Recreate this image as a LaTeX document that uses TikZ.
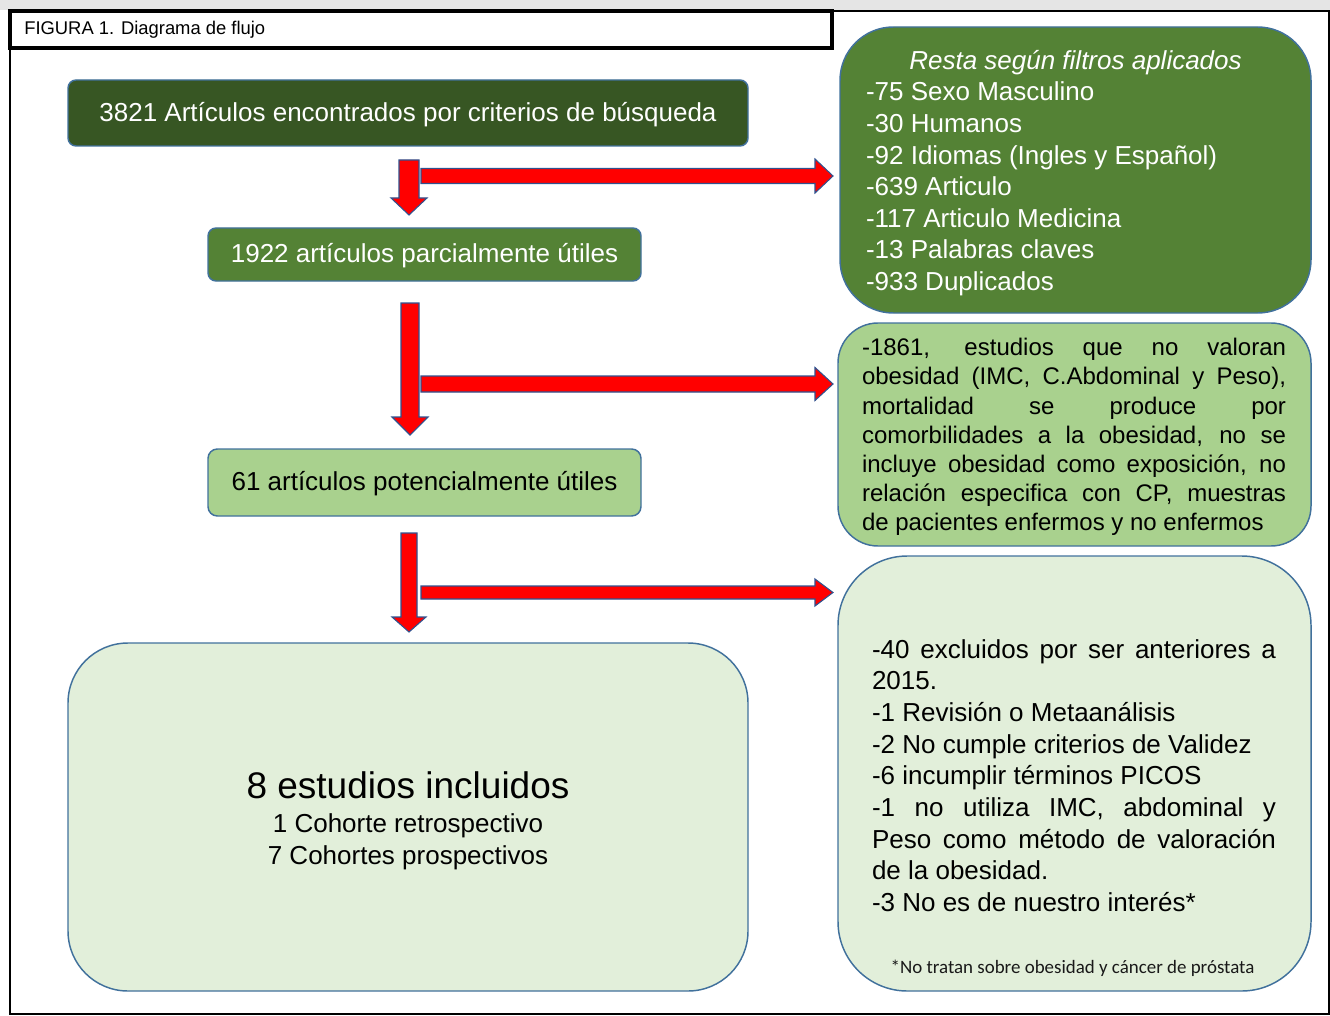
\documentclass[tikz,border=0pt]{standalone}
\usepackage{fontspec}
\setmainfont{Liberation Sans}
\newfontfamily\carlito{Carlito}
\definecolor{gA}{HTML}{375623}
\definecolor{gB}{HTML}{548235}
\definecolor{gC}{HTML}{A9D18E}
\definecolor{gD}{HTML}{E2EFDA}
\definecolor{boxedge}{HTML}{41719C}
\definecolor{arredge}{HTML}{2F528F}
\newcommand\natsp{\spaceskip=0pt\xspaceskip=0pt\relax}
\newcommand\jline[2]{\makebox[#1][s]{\spaceskip=.278em plus 3em\relax #2}}
\newcommand\lowstrut{\rule[-4pt]{0pt}{20.5pt}}
\newcommand\downarr[6]{% x, ytop, yhead, ytip, shafthalf, headhalf
  \draw[arrowshape] (#1-#5,#2) -- (#1+#5,#2) -- (#1+#5,#3) -- (#1+#6,#3) -- (#1,#4)
    -- (#1-#6,#3) -- (#1-#5,#3) -- cycle;}
\newcommand\rightarr[6]{% y, xstart, xhead, xtip, shafthalf, headhalf
  \draw[arrowshape] (#2,#1-#5) -- (#3,#1-#5) -- (#3,#1-#6) -- (#4,#1) -- (#3,#1+#6)
    -- (#3,#1+#5) -- (#2,#1+#5) -- cycle;}
\begin{document}
\begin{tikzpicture}[x=0.75pt,y=-0.75pt,
  arrowshape/.style={fill=red,draw=arredge,line width=0.8pt,line join=miter},
  boxbase/.style={draw=boxedge,line width=1.1pt,inner sep=0pt},
  big/.style={font=\fontsize{19.5}{23.7}\selectfont},
  mid/.style={font=\fontsize{18}{21.9}\selectfont}]
\useasboundingbox (0,0) rectangle (1330,1016);
\fill[black!10] (0,0) rectangle (1330,10);
\draw[line width=1.5pt] (10,11) rectangle (1329,1014);
\node[draw,line width=2.4pt,minimum width=822*0.75pt,minimum height=37*0.75pt,inner sep=0pt] (title) at (421,29.5) {};
\node[anchor=west,inner sep=0pt,font=\fontsize{13.8}{16}\selectfont] (titletext) at (24,29.5) {FIGURA 1. Diagrama de flujo};

% left column
\node[boxbase,fill=gA,rounded corners=6pt,minimum width=680*0.75pt,minimum height=66*0.75pt,text=white,big] (b1) at (408,113) {\lowstrut 3821 Artículos encontrados por criterios de búsqueda};
\node[boxbase,fill=gB,rounded corners=6pt,minimum width=433*0.75pt,minimum height=53*0.75pt,text=white,big] (b2) at (424.5,254.5) {\lowstrut 1922 artículos parcialmente útiles};
\node[boxbase,fill=gC,rounded corners=7pt,minimum width=433*0.75pt,minimum height=67*0.75pt,text=black,big] (b3) at (424.5,482.5) {\lowstrut 61 artículos potencialmente útiles};
\node[boxbase,fill=gD,rounded corners=45pt,minimum width=680*0.75pt,minimum height=348*0.75pt] (b4) at (408,817) {};
\node[align=center,inner sep=0pt,font=\fontsize{19.5}{24}\selectfont] (b4t) at (408,821) {\natsp{\fontsize{27.75}{30}\selectfont 8 estudios incluidos}\\[1.8pt]1 Cohorte retrospectivo\\7 Cohortes prospectivos};

% right column
\node[boxbase,fill=gB,rounded corners=40pt,minimum width=471*0.75pt,minimum height=286*0.75pt] (r1) at (1075.5,170) {};
\node[align=left,inner sep=0pt,text width=314.25pt,text=white,big] (r1t) at (1075.5,173) {\natsp\makebox[314.25pt][c]{\itshape Resta según filtros aplicados}\\
-75 Sexo Masculino\\
-30 Humanos\\
-92 Idiomas (Ingles y Español)\\
-639 Articulo\\
-117 Articulo Medicina\\
-13 Palabras claves\\
-933 Duplicados};

\node[boxbase,fill=gC,rounded corners=30pt,minimum width=473*0.75pt,minimum height=223*0.75pt] (r2) at (1074.5,434.5) {};
\node[align=left,inner sep=0pt,text width=318pt,mid] (r2t) at (1074,437) {\natsp\jline{318pt}{-1861, estudios que no valoran}\\
\jline{318pt}{obesidad (IMC, C.Abdominal y Peso),}\\
\jline{318pt}{mortalidad se produce por}\\
\jline{318pt}{comorbilidades a la obesidad, no se}\\
\jline{318pt}{incluye obesidad como exposición, no}\\
\jline{318pt}{relación especifica con CP, muestras}\\
de pacientes enfermos y no enfermos};

\node[boxbase,fill=gD,rounded corners=52pt,minimum width=473*0.75pt,minimum height=435*0.75pt] (r3) at (1074.5,773.5) {};
\node[align=left,inner sep=0pt,text width=303pt,big] (r3t) at (1074,775.5) {\natsp\jline{303pt}{-40 excluidos por ser anteriores a}\\
2015.\\
-1 Revisión o Metaanálisis\\
-2 No cumple criterios de Validez\\
-6 incumplir términos PICOS\\
\jline{303pt}{-1 no utiliza IMC, abdominal y}\\
\jline{303pt}{Peso como método de valoración}\\
de la obesidad.\\
-3 No es de nuestro interés*};
\node[inner sep=0pt,font=\carlito\fontsize{14.2}{16}\selectfont,text=black!90] (foot) at (1072.5,968) {*No tratan sobre obesidad y cáncer de próstata};

% arrows
\downarr{409}{160}{198}{215}{10}{18}
\rightarr{176}{421}{815}{833}{7.5}{17}
\downarr{410}{303}{417}{435}{9}{18}
\rightarr{384}{421}{815}{833}{8}{16.5}
\downarr{409}{533}{617}{632}{8}{17}
\rightarr{592.5}{421}{815}{833}{6.5}{13.5}
\end{tikzpicture}
\end{document}
